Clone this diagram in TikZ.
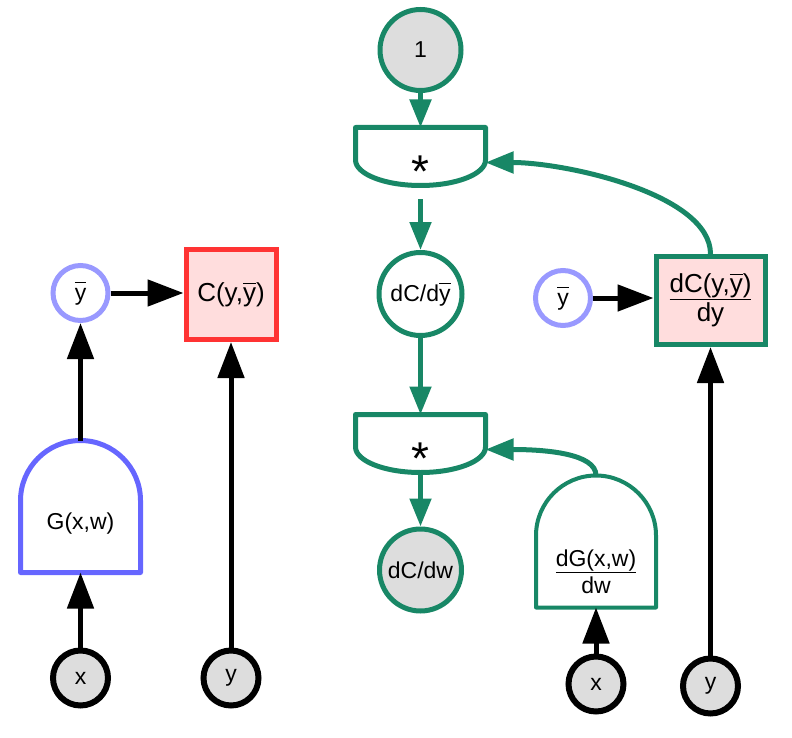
\documentclass[tikz,border=0pt]{standalone}
\usepackage{fontspec}
\setmainfont{Liberation Sans}
\definecolor{flowgreen}{RGB}{24,135,102}
\definecolor{genblue}{RGB}{102,102,255}
\definecolor{outblue}{RGB}{153,153,255}
\definecolor{costred}{RGB}{255,51,51}
\definecolor{costpink}{RGB}{255,221,221}
\definecolor{valgray}{RGB}{221,221,221}
\usetikzlibrary{arrows.meta}
\newcommand{\yb}{\ensuremath{\overline{\vphantom{C}\mbox{y}}}}

\begin{document}
\begin{tikzpicture}[x=1pt, y=-1pt,
  every node/.style={font=\fontsize{23}{27}\selectfont},
  val/.style={circle, draw=black, line width=6pt, fill=valgray, minimum size=55pt, inner sep=0pt},
  outc/.style={circle, draw=outblue, line width=5pt, fill=white, minimum size=55pt, inner sep=0pt},
  gcirc/.style={circle, draw=flowgreen, line width=5pt, minimum size=82pt, inner sep=0pt},
  costbox/.style={rectangle, draw=#1, line width=5pt, fill=costpink, inner sep=0pt, align=center, font=\fontsize{26}{29}\selectfont},
  dome/.style={rectangle, minimum width=120pt, minimum height=72pt, inner sep=0pt, outer sep=0pt, align=center},
  bowl/.style={rectangle, minimum width=130pt, minimum height=58pt, inner sep=0pt, outer sep=0pt, text height=0pt, text depth=0pt, font=\fontsize{46}{46}\selectfont},
  blk/.style={line width=5pt, -{Triangle[length=36pt, width=26pt]}},
  grn/.style={flowgreen, line width=5pt, -{Triangle[length=28pt, width=21pt]}}]
  \useasboundingbox (0,0) rectangle (792,738);

  % Forward pass
  \node[val] (xL) at (80.5,678) {x};
  \node[val] (yL) at (231,678) {y};
  \node[dome, text height=16pt, text depth=31pt] (G) at (80.5,536.5) {G(x,w)};
  \draw[genblue, line width=5pt, line join=round] (G.north west)
    .. controls ([yshift=33pt]G.north west) and ([xshift=27pt,yshift=60pt]G.north west) .. ([yshift=60pt]G.north) coordinate (G-top)
    .. controls ([xshift=-27pt,yshift=60pt]G.north east) and ([yshift=33pt]G.north east) .. (G.north east)
    -- (G.south east) -- (G.south west) -- cycle;
  \node[outc] (ybL) at (80.5,293) {\yb};
  \node[costbox=costred, minimum size=90pt] (C) at (231,294.5) {C(y,\yb)};

  \draw[blk] (xL) -- (G.south);
  \draw[blk] (G-top) -- (ybL);
  \draw[blk] (ybL) -- (ybL -| C.west);
  \draw[blk] (yL) -- (C);

  % Backward pass
  \node[gcirc, fill=valgray, minimum size=81pt] (one) at (420.5,50) {1};
  \node[bowl] (mulA) at (420.5,156.5) {\raisebox{-31pt}{*}};
  \draw[flowgreen, line width=5pt, line join=round] (mulA.north west) -- ([yshift=25.5pt]mulA.south west)
    .. controls ([yshift=11.5pt]mulA.south west) and ([xshift=29pt]mulA.south west) .. (mulA.south)
    .. controls ([xshift=-29pt]mulA.south east) and ([yshift=11.5pt]mulA.south east) .. ([yshift=25.5pt]mulA.south east)
    -- (mulA.north east) -- cycle;
  \node[gcirc, fill=white, minimum size=83pt] (dCdyb) at (420.5,294) {dC/d\yb};
  \node[bowl] (mulB) at (420.5,443.5) {\raisebox{-31pt}{*}};
  \draw[flowgreen, line width=5pt, line join=round] (mulB.north west) -- ([yshift=25.5pt]mulB.south west)
    .. controls ([yshift=11.5pt]mulB.south west) and ([xshift=29pt]mulB.south west) .. (mulB.south)
    .. controls ([xshift=-29pt]mulB.south east) and ([yshift=11.5pt]mulB.south east) .. ([yshift=25.5pt]mulB.south east)
    -- (mulB.north east) -- cycle;
  \node[gcirc, fill=valgray, minimum size=82pt] (dCdw) at (420.5,570) {dC/dw};

  \node[outc] (ybR) at (563,298) {\yb};
  \node[costbox=flowgreen, minimum width=109pt, minimum height=88pt] (dCdy) at (710.5,300.5) {\underline{dC(y,\yb)}\\dy};
  \node[dome] (dG) at (596,571.5) {\underline{dG(x,w)}\\dw};
  \draw[flowgreen, line width=4pt, line join=round] (dG.north west)
    .. controls ([yshift=33pt]dG.north west) and ([xshift=27pt,yshift=60pt]dG.north west) .. ([yshift=60pt]dG.north) coordinate (dG-top)
    .. controls ([xshift=-27pt,yshift=60pt]dG.north east) and ([yshift=33pt]dG.north east) .. (dG.north east)
    -- (dG.south east) -- (dG.south west) -- cycle;
  \node[val] (xR) at (596,684) {x};
  \node[val] (yR) at (710.5,686) {y};

  \draw[grn] (one) -- (mulA);
  \draw[grn, shorten <=14pt] (mulA) -- (dCdyb);
  \draw[grn] (dCdyb) -- (mulB);
  \draw[grn] (mulB) -- (dCdw);
  \draw[grn] (dCdy.north) .. controls +(0,-60) and +(80,0) .. ([yshift=-6pt]mulA.east);
  \draw[grn] (dG-top) .. controls +(0,-22) and +(60,0) .. ([yshift=-6pt]mulB.east);
  \draw[blk] (ybR) -- (ybR -| dCdy.west);
  \draw[blk] (xR) -- (dG.south);
  \draw[blk] (yR) -- (dCdy);
\end{tikzpicture}
\end{document}
